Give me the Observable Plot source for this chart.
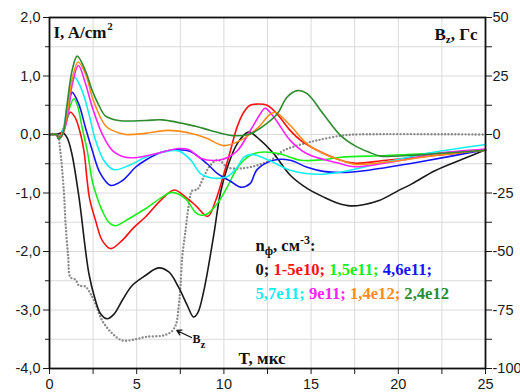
<!DOCTYPE html>
<html><head><meta charset="utf-8">
<script src="https://cdn.jsdelivr.net/npm/d3@7"></script>
<script src="https://cdn.jsdelivr.net/npm/@observablehq/plot@0.6"></script>
<style>body{margin:0;background:#fff}</style>
</head><body><div id="chart"></div>
<script>
// ---- Data: T (мкс), I (A/cm²) ----
const black0 = [[0,0],[0.4,0],[0.75,0.03],[1.0,-0.05],[1.26,-0.3],[1.68,-1.05],[2.26,-2.38],[2.64,-2.84],[2.92,-3.06],[3.3,-3.15],[3.7,-3.07],[4.2,-2.82],[4.74,-2.58],[5.5,-2.41],[6.25,-2.28],[6.84,-2.35],[7.4,-2.61],[7.9,-2.92],[8.26,-3.12],[8.5,-3.05],[8.85,-2.67],[9.4,-1.75],[9.8,-1.0],[10.2,-0.56],[10.76,-0.16],[11.4,0.04],[12.1,-0.1],[12.86,-0.33],[13.82,-0.7],[14.77,-0.92],[15.8,-1.08],[16.5,-1.17],[17.26,-1.22],[18.0,-1.2],[18.9,-1.13],[20.0,-0.96],[20.8,-0.84],[22.1,-0.62],[23.7,-0.42],[25,-0.26]];
const red5e10 = [[0,0],[0.4,0],[0.52,-0.05],[0.85,0.14],[1.2,0.38],[1.45,0.3],[1.68,0.12],[1.97,-0.27],[2.16,-0.79],[2.3,-1.1],[2.64,-1.47],[3.02,-1.81],[3.5,-1.95],[4.17,-1.81],[4.8,-1.6],[5.5,-1.41],[6.46,-1.1],[7.15,-0.95],[7.8,-1.07],[8.37,-1.21],[9.07,-1.4],[9.5,-1.15],[10.0,-0.67],[10.38,-0.27],[10.76,0.13],[11.14,0.38],[11.5,0.5],[11.9,0.52],[12.48,0.5],[13.05,0.35],[13.8,0.07],[14.4,-0.1],[15.35,-0.27],[16.7,-0.44],[17.5,-0.49],[19.3,-0.44],[22.1,-0.36],[25,-0.27]];
const green15e11 = [[0,0],[0.4,0],[0.52,-0.06],[0.75,0.02],[1.0,0.25],[1.2,0.5],[1.4,0.61],[1.6,0.5],[1.87,0.12],[2.16,-0.27],[2.45,-0.79],[2.7,-1.05],[3.02,-1.3],[3.4,-1.5],[3.78,-1.56],[4.55,-1.44],[5.5,-1.27],[6.46,-1.07],[7.03,-0.99],[7.8,-1.1],[8.37,-1.33],[8.7,-1.38],[9.04,-1.36],[9.6,-1.19],[10.19,-0.9],[10.67,-0.62],[11.14,-0.44],[11.7,-0.33],[12.3,-0.3],[13.2,-0.33],[14.4,-0.44],[15.73,-0.43],[16.7,-0.39],[19.3,-0.36],[22.1,-0.32],[25,-0.27]];
const blue46e11 = [[0,0],[0.4,0],[0.52,-0.07],[0.7,-0.02],[0.92,0.18],[1.1,0.5],[1.3,0.72],[1.68,0.52],[2.06,0.12],[2.45,-0.27],[2.92,-0.67],[3.5,-0.87],[4.17,-0.79],[4.93,-0.56],[5.5,-0.44],[6.46,-0.3],[7.4,-0.26],[8.08,-0.29],[9.04,-0.5],[9.6,-0.66],[10.38,-0.8],[10.95,-0.9],[11.5,-0.84],[11.9,-0.6],[12.85,-0.44],[13.8,-0.44],[14.77,-0.56],[15.7,-0.63],[16.7,-0.65],[18.3,-0.61],[20,-0.53],[21.2,-0.47],[25,-0.26]];
const cyan57e11 = [[0,0],[0.4,0],[0.52,-0.07],[0.7,0],[1.0,0.45],[1.2,0.8],[1.43,0.98],[1.87,0.75],[2.26,0.35],[2.64,-0.1],[3.11,-0.44],[3.67,-0.6],[4.55,-0.53],[5.5,-0.39],[6.5,-0.3],[7.4,-0.28],[8.08,-0.43],[8.66,-0.67],[9.23,-0.74],[10.19,-0.72],[10.76,-0.56],[11.14,-0.39],[11.6,-0.34],[12.28,-0.4],[13.0,-0.5],[13.8,-0.61],[15.5,-0.68],[16.7,-0.64],[19.3,-0.47],[22.1,-0.3],[25,-0.17]];
const magenta9e11 = [[0,0],[0.4,0],[0.52,-0.07],[0.75,0],[1.0,0.25],[1.3,0.85],[1.66,1.18],[2.06,0.87],[2.45,0.47],[3.02,0.01],[3.6,-0.27],[4.36,-0.39],[5.1,-0.39],[6.08,-0.33],[7.4,-0.24],[8.0,-0.26],[8.7,-0.41],[9.7,-0.44],[10.3,-0.38],[10.8,-0.27],[11.5,0.06],[12.1,0.36],[12.35,0.45],[12.86,0.3],[13.8,-0.1],[14.77,-0.33],[16.7,-0.5],[17.5,-0.55],[20.2,-0.44],[22.1,-0.33],[25,-0.25]];
const orange14e12 = [[0,0],[0.4,0],[0.52,-0.07],[0.75,0],[1.0,0.35],[1.3,0.95],[1.64,1.24],[2.06,1.04],[2.45,0.64],[2.83,0.35],[3.21,0.15],[3.6,0.07],[4.36,0.0],[5.5,0.02],[6.8,0.07],[8.37,0.0],[9.04,-0.07],[10.0,-0.19],[10.95,-0.1],[11.9,0.1],[12.67,0.35],[12.96,0.38],[13.82,0.15],[14.77,-0.16],[15.73,-0.33],[16.7,-0.44],[17.5,-0.51],[20.2,-0.44],[22.1,-0.36],[25,-0.27]];
const dgreen24e12 = [[0,0],[0.4,0],[0.52,-0.07],[0.75,0],[1.0,0.5],[1.3,1.1],[1.59,1.34],[2.06,1.09],[2.45,0.75],[2.83,0.5],[3.2,0.32],[3.97,0.24],[5.5,0.24],[6.46,0.25],[8.37,0.14],[9.23,0.07],[10.5,-0.02],[11.5,0.01],[12.29,0.15],[13.05,0.35],[13.63,0.64],[14.2,0.75],[14.77,0.7],[15.7,0.35],[16.7,-0.02],[17.5,-0.19],[18.3,-0.3],[19.0,-0.37],[20.5,-0.36],[22.1,-0.33],[25,-0.27]];
// Bz (Гс), right axis: 25 Гс per 1 A/cm²
const bzGs = [[0,0],[0.45,0],[0.6,-6],[0.82,-24],[0.92,-38],[1.07,-52],[1.2,-61],[1.49,-62],[1.68,-64.5],[2.06,-65],[2.35,-68],[2.64,-72.5],[3.02,-79.5],[3.6,-85],[4.17,-88],[4.93,-87.5],[5.5,-86.5],[6.46,-86],[6.84,-85],[7.03,-84],[7.26,-81],[7.42,-72.5],[7.51,-65],[7.61,-52.5],[7.8,-41],[7.99,-30],[8.18,-24],[8.47,-23.5],[8.85,-18],[9.14,-14],[9.55,-11],[9.8,-11.3],[10.19,-14],[10.95,-14.5],[11.9,-13.2],[12.67,-11],[13.43,-6.8],[14.4,-4.3],[15.35,-2.5],[16.7,-0.5],[17.5,0],[25,0]];
const bzPerUnit = 25;

const seriesData = [black0, red5e10, green15e11, blue46e11, cyan57e11, magenta9e11, orange14e12, dgreen24e12];
const seriesLabels = ["0;", "1-5e10;", "1,5e11;", "4,6e11;", "5,7e11;", "9e11;", "1,4e12;", "2,4e12"];
const seriesColors = ["#1a1a1a", "#ff1010", "#18f018", "#1414ff", "#10f0f0", "#ff20ff", "#ff8c1a", "#2e8b2e"];

const xTicks = [0, 2.5, 5, 7.5, 10, 12.5, 15, 17.5, 20, 22.5, 25];
const yMajor = [2, 1, 0, -1, -2, -3, -4];
const yMinor = [1.5, 0.5, -0.5, -1.5, -2.5, -3.5];
const yGrid = [2, 1.5, 1, 0.5, 0, -0.5, -1, -1.5, -2, -2.5, -3, -3.5, -4];

const bzNote = {T: 8.2, I: -3.57};
const bzArrow = {x1: 8.14, y1: -3.47, x2: 7.3, y2: -3.35};

// ---- rich text helper ----
const SERIF = '"Liberation Serif", "Times New Roman", serif';
const ctx = document.createElement("canvas").getContext("2d");
function measure(t, size) { ctx.font = `bold ${size}px ${SERIF}`; return ctx.measureText(t).width; }
function rich(segs, {frameAnchor = "top-left", dx = 0, dy = 0, at = null, align = "start"}) {
  const offs = []; let off = 0;
  segs.forEach(s => { if (s.space) off += measure(" ", s.size); offs.push(off); off += measure(s.text, s.size); });
  const shift = align === "end" ? -off : 0;
  return segs.map((s, i) => {
    const base = {text: d => d.text, dx: dx + shift + offs[i], dy: dy + (s.shift || 0),
      fill: s.color || "#111", fontSize: s.size, fontWeight: "bold", fontFamily: SERIF,
      textAnchor: "start", lineAnchor: "bottom"};
    return at ? Plot.text([{...s, ...at}], {...base, x: "x", y: "y"})
              : Plot.text([s], {...base, frameAnchor});
  });
}

const lines = seriesData.map((d, i) => Plot.line(d, {x: p => p[0], y: p => p[1], stroke: seriesColors[i], strokeWidth: 1.6, curve: "catmull-rom"}));

const legendLine2 = seriesLabels.slice(0, 4).map((t, i) => ({text: t, color: seriesColors[i], size: 16.6, space: i > 0}));
const legendLine3 = seriesLabels.slice(4).map((t, i) => ({text: t, color: seriesColors[i + 4], size: 16.6, space: i > 0}));

const chart = Plot.plot({
  width: 520, height: 392,
  marginLeft: 49, marginRight: 35, marginTop: 17, marginBottom: 24,
  x: {domain: [0, 25]},
  y: {domain: [-4, 2]},
  style: {fontFamily: '"Liberation Sans", Arial, sans-serif', fontSize: "14.5px", color: "#1a1a1a", background: "#fff", overflow: "visible"},
  marks: [
    Plot.gridX(xTicks, {stroke: "#dadada", strokeOpacity: 1}),
    Plot.gridY(yGrid, {stroke: "#dadada", strokeOpacity: 1}),
    Plot.axisY(yMajor, {anchor: "left", tickSize: 6, tickPadding: 3, tickFormat: d => d.toFixed(1).replace(".", ","), label: null}),
    Plot.axisY(yMinor, {anchor: "left", tickSize: 4, tickFormat: () => "", label: null}),
    Plot.axisY(yGrid, {anchor: "right", tickSize: 6, tickPadding: 1, tickFormat: d => Number.isInteger(d) ? String(d * bzPerUnit) : "", label: null}),
    Plot.axisX(xTicks, {anchor: "bottom", tickSize: 6, tickPadding: 4, tickFormat: d => d % 5 === 0 ? String(d) : "", label: null}),
    Plot.line(bzGs, {x: p => p[0], y: p => p[1] / bzPerUnit, stroke: "#8a8a8a", strokeWidth: 2.4, strokeLinecap: "round", strokeDasharray: "0 3.4", curve: "catmull-rom"}),
    ...lines,
    Plot.frame({stroke: "#111", strokeWidth: 1.8}),
    Plot.arrow([bzArrow], {x1: "x1", y1: "y1", x2: "x2", y2: "y2", stroke: "#111", strokeWidth: 1.3, headLength: 6, bend: 0}),
    ...rich([{text: "B", size: 12}, {text: "z", size: 11, shift: 5}], {at: {x: bzNote.T, y: bzNote.I}}),
    ...rich([{text: "I, A/cm", size: 17}, {text: "2", size: 11, shift: -8}], {frameAnchor: "top-left", dx: 4, dy: 20}),
    ...rich([{text: "B", size: 17}, {text: "z", size: 11, shift: 3}, {text: ", Гс", size: 17}], {frameAnchor: "top-right", dx: -8, dy: 22, align: "end"}),
    ...rich([{text: "T, мкс", size: 17}], {frameAnchor: "bottom-left", dx: 189, dy: -5}),
    ...rich([{text: "n", size: 16.6}, {text: "ф", size: 12, shift: 4}, {text: ", см", size: 16.6}, {text: "-3", size: 12, shift: -7}, {text: ":", size: 16.6}], {frameAnchor: "top-left", dx: 206, dy: 233}),
    ...rich(legendLine2, {frameAnchor: "top-left", dx: 206, dy: 257}),
    ...rich(legendLine3, {frameAnchor: "top-left", dx: 206, dy: 281})
  ]
});
document.getElementById("chart").appendChild(chart);
</script>
</body></html>
